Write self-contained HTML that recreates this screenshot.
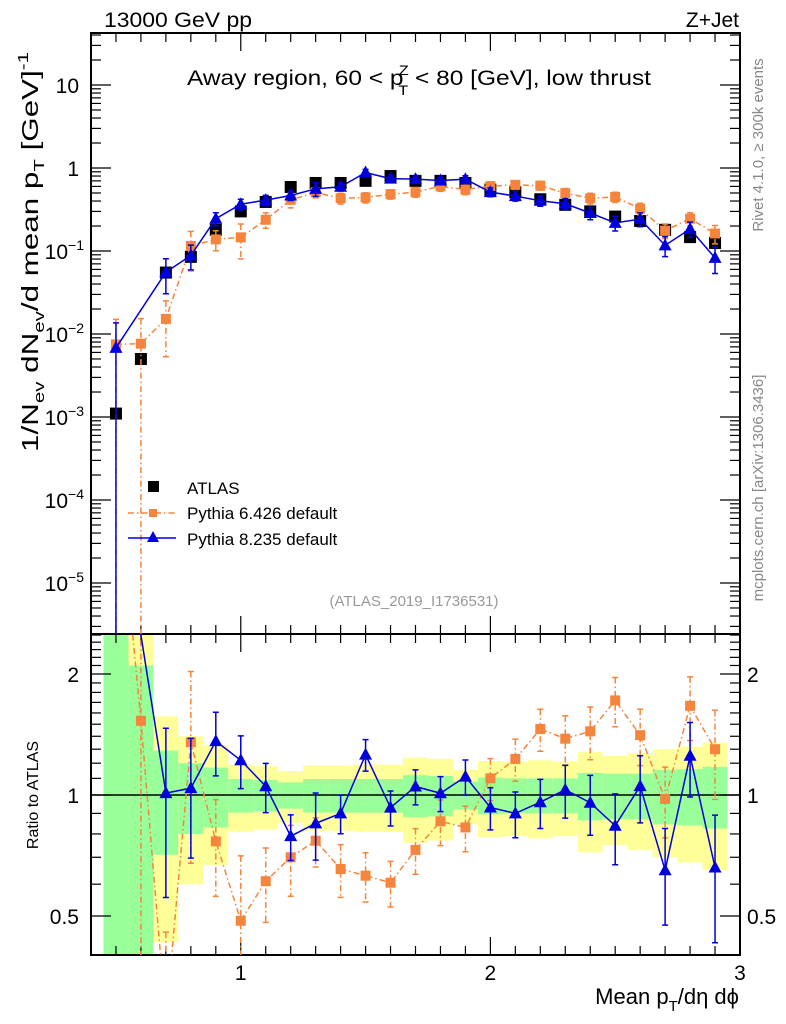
<!DOCTYPE html>
<html><head><meta charset="utf-8"><style>
html,body{margin:0;padding:0;background:#fff;overflow:hidden;}
svg{display:block;font-family:"Liberation Sans",Arial,sans-serif;}
</style></head><body>
<svg id="chart" width="786" height="1024" viewBox="0 0 786 1024" xmlns="http://www.w3.org/2000/svg">
<rect width="786" height="1024" fill="#fff"/>
<g id="bands"></g>
<g id="grid"></g>
<g id="series"></g>
<text x="104" y="27" font-size="21" textLength="148" lengthAdjust="spacingAndGlyphs">13000 GeV pp</text>
<text x="739" y="27" font-size="21" text-anchor="end">Z+Jet</text>
<text x="187" y="85" font-size="21" textLength="464" lengthAdjust="spacingAndGlyphs">Away region, 60 &lt; p<tspan font-size="14" dy="-10" dx="-4">Z</tspan><tspan font-size="14" dy="20" dx="-9">T</tspan><tspan dy="-10"> &lt; 80 [GeV], low thrust</tspan></text>
<text transform="translate(38,252) rotate(-90)" font-size="23" text-anchor="middle" textLength="400" lengthAdjust="spacingAndGlyphs">1/N<tspan font-size="15" dy="6">ev</tspan><tspan dy="-6"> dN</tspan><tspan font-size="15" dy="6">ev</tspan><tspan dy="-6">/d mean p</tspan><tspan font-size="15" dy="6">T</tspan><tspan dy="-6"> [GeV]</tspan><tspan font-size="15" dy="-10">-1</tspan></text>
<text transform="translate(38,795) rotate(-90)" font-size="16" text-anchor="middle">Ratio to ATLAS</text>
<text x="739" y="1004" font-size="22" text-anchor="end">Mean p<tspan font-size="15" dy="7">T</tspan><tspan dy="-7">/dη dϕ</tspan></text>
<text transform="translate(763,145) rotate(-90)" font-size="15" fill="#888" text-anchor="middle">Rivet 4.1.0, ≥ 300k events</text>
<text transform="translate(763,488) rotate(-90)" font-size="15" fill="#888" text-anchor="middle">mcplots.cern.ch [arXiv:1306.3436]</text>
<text x="414" y="606" font-size="15" fill="#999" text-anchor="middle">(ATLAS_2019_I1736531)</text>
<g>
<rect x="148" y="481" width="11" height="11" fill="#000"/>
<text x="187" y="494" font-size="17">ATLAS</text>
<line x1="128" y1="513" x2="176" y2="513" stroke="#f5843c" stroke-width="1.5" stroke-dasharray="6,3,1.5,3"/>
<rect x="149" y="509" width="8" height="8" fill="#f5843c"/>
<text x="187" y="519" font-size="17">Pythia 6.426 default</text>
<line x1="128" y1="538" x2="176" y2="538" stroke="#0000dd" stroke-width="1.5"/>
<path d="M153,531 L159,542 L147,542 Z" fill="#0000dd"/>
<text x="187" y="545" font-size="17">Pythia 8.235 default</text>
</g>
</svg>
<script>
const xVals=[0.5,0.6,0.7,0.8,0.9,1.0,1.1,1.2,1.3,1.4,1.5,1.6,1.7,1.8,1.9,2.0,2.1,2.2,2.3,2.4,2.5,2.6,2.7,2.8,2.9];
const atlas=[0.0011,0.005,0.055,0.085,0.18,0.30,0.39,0.59,0.66,0.66,0.70,0.80,0.70,0.70,0.66,0.55,0.51,0.42,0.36,0.30,0.26,0.23,0.18,0.147,0.125];
const atlasTot=[2,2,0.57,0.40,0.33,0.19,0.18,0.147,0.185,0.185,0.19,0.19,0.24,0.23,0.155,0.215,0.21,0.22,0.21,0.28,0.25,0.27,0.30,0.32,0.35];
const atlasStat=[2,1.1,0.29,0.20,0.17,0.096,0.09,0.075,0.096,0.096,0.096,0.096,0.12,0.115,0.08,0.105,0.10,0.10,0.10,0.135,0.13,0.13,0.155,0.16,0.175];
const py6=[0.0075,0.00765,0.0152,0.115,0.138,0.146,0.238,0.413,0.508,0.432,0.441,0.484,0.511,0.602,0.548,0.605,0.627,0.613,0.497,0.432,0.447,0.324,0.176,0.245,0.1625];
const py6Err=[1.0,1.0,0.65,0.5,0.27,0.45,0.21,0.20,0.14,0.15,0.14,0.13,0.13,0.13,0.13,0.12,0.12,0.12,0.14,0.15,0.14,0.16,0.20,0.18,0.25];
const py8=[0.0068,null,0.0556,0.0884,0.245,0.366,0.41,0.466,0.561,0.594,0.882,0.744,0.735,0.707,0.733,0.512,0.459,0.403,0.371,0.287,0.218,0.242,0.117,0.184,0.0825];
const py8Err=[1.0,null,0.45,0.33,0.18,0.15,0.14,0.13,0.19,0.11,0.09,0.10,0.10,0.10,0.10,0.12,0.13,0.14,0.15,0.17,0.20,0.19,0.27,0.21,0.35];
const mainTicks=[1,0,-1,-2,-3,-4,-5];
const ratioTicks=[0.5,1,2];
const xTicks=[1,2,3];

const NS="http://www.w3.org/2000/svg";
const L=91,R=740,MT=33,MB=634,RB=955;
const X=v=>L+(v-0.4)*(R-L)/2.6;
const Y=v=>168-83*Math.log10(v);
const YR=v=>795-121*Math.log2(v);
const clampR=y=>Math.max(MB,Math.min(RB,y));
function el(tag,attrs,parent){const e=document.createElementNS(NS,tag);for(const k in attrs)e.setAttribute(k,attrs[k]);parent.appendChild(e);return e;}
const svg=document.getElementById('chart');
const bands=document.getElementById('bands'),grid=document.getElementById('grid'),ser=document.getElementById('series');

xVals.forEach((x,i)=>{
  const x0=Math.max(L,X(x-0.05)),x1=X(x+0.05);
  const up=clampR(YR(1+atlasTot[i])),dn=atlasTot[i]>=1?RB:clampR(YR(1-atlasTot[i]));
  const r=el('rect',{x:x0,y:up,width:x1-x0,height:dn-up,fill:'#ffff99'},bands);
  
  
  const up2=clampR(YR(1+atlasStat[i])),dn2=atlasStat[i]>=1?RB:clampR(YR(1-atlasStat[i]));
  const g=el('rect',{x:x0,y:up2,width:x1-x0,height:dn2-up2,fill:'#99ff99'},bands);
  
  
});
el('line',{x1:L,x2:R,y1:795,y2:795,stroke:'#000','stroke-width':1.5},grid);

const f1=el('rect',{x:L,y:MT,width:R-L,height:MB-MT,fill:'none',stroke:'#000','stroke-width':2},grid);


const f2=el('rect',{x:L,y:MB,width:R-L,height:RB-MB,fill:'none',stroke:'#000','stroke-width':2},grid);



for(let k=4;k<=30;k++){const v=k/10,x=X(v),maj=(k%10===0),len=maj?18:9;
  [[MT,1],[MB,-1],[MB,1],[RB,-1]].forEach(([y0,d])=>el('line',{x1:x,x2:x,y1:y0,y2:y0+d*len,stroke:'#000','stroke-width':1.2},grid));}
xTicks.forEach(v=>{const t=el('text',{x:X(v),y:980,'font-size':21,'text-anchor':'middle'},svg);t.textContent=v;
  
  });

for(let e=-6;e<=1;e++){for(let m=1;m<=9;m++){const v=m*Math.pow(10,e),y=Y(v);if(y<MT||y>MB)continue;const len=m===1?20:10;
  el('line',{x1:L,x2:L+len,y1:y,y2:y,stroke:'#000','stroke-width':1.2},grid);el('line',{x1:R,x2:R-len,y1:y,y2:y,stroke:'#000','stroke-width':1.2},grid);}}
mainTicks.forEach(e=>{const y=Y(Math.pow(10,e));const t=el('text',{x:e>=0?79:84,y:y+8,'font-size':21,'text-anchor':'end'},svg);
  
  
  if(e===1)t.textContent='10';else if(e===0)t.textContent='1';else{t.textContent='10';const s=el('tspan',{dy:-9,'font-size':14},t);s.textContent='−'+(-e);}
});
[0.4,0.5,0.6,0.7,0.8,0.9,1,1.1,1.2,1.3,1.4,1.5,1.6,1.7,1.8,1.9,2,2.1,2.2,2.3,2.4,2.5].forEach(v=>{const y=YR(v);if(y<MB||y>RB)return;const len=(v===0.5||v===1||v===2)?20:10;
  el('line',{x1:L,x2:L+len,y1:y,y2:y,stroke:'#000','stroke-width':1.2},grid);el('line',{x1:R,x2:R-len,y1:y,y2:y,stroke:'#000','stroke-width':1.2},grid);});
ratioTicks.forEach(v=>{const y=YR(v)+8;
  const t=el('text',{x:79,y:y,'font-size':21,'text-anchor':'end'},svg);t.textContent=v;
  
  
  const t2=el('text',{x:747,y:y,'font-size':21},svg);t2.textContent=v;
  
  });

const defs=el('defs',{},svg);
const c1=el('clipPath',{id:'cm'},defs);el('rect',{x:L,y:MT,width:R-L,height:MB-MT},c1);
const c2=el('clipPath',{id:'cr'},defs);el('rect',{x:L,y:MB,width:R-L,height:RB-MB},c2);
const gm=el('g',{'clip-path':'url(#cm)'},ser),gr=el('g',{'clip-path':'url(#cr)'},ser);

function drawMC(vals,errs,color,dash,marker,name){
  [[gm,Y],[gr,YR]].forEach(([g,Yf],pi)=>{
    const pts=[];
    xVals.forEach((x,i)=>{if(vals[i]==null)return;const val=pi===0?vals[i]:vals[i]/atlas[i];pts.push([X(x),Yf(val)]);
      if(pi===1&&Yf(val)<MB)return;
      const hi=Yf(val*(1+errs[i])),lo=errs[i]>=1?2000:Yf(val*(1-errs[i]));
      const eb=el('path',{d:`M${X(x)},${hi}V${lo}M${X(x)-3},${hi}h6M${X(x)-3},${lo}h6`,stroke:color,'stroke-width':1.5,fill:'none','stroke-dasharray':dash||'none'},g);
      
      
    });
    const ln=el('polyline',{points:pts.map(p=>p.join(',')).join(' '),fill:'none',stroke:color,'stroke-width':1.5,'stroke-dasharray':dash||'none'},g);
    
    
    pts.forEach(([x,y])=>{let m;
      if(marker==='sq'){m=el('rect',{x:x-5,y:y-5,width:10,height:10,fill:color},g);}
      else{m=el('path',{d:`M${x},${y-7}L${x+6.5},${y+5}L${x-6.5},${y+5}Z`,fill:color},g);}
      
      
    });
  });
}
xVals.forEach((x,i)=>{const m=el('rect',{x:X(x)-6,y:Y(atlas[i])-6,width:12,height:12,fill:'#000'},gm);
  
  });
drawMC(py6,py6Err,'#f5843c','6,3,1.5,3','sq','pythia6');
drawMC(py8,py8Err,'#0000dd',null,'tri','pythia8');
</script>
</body></html>
